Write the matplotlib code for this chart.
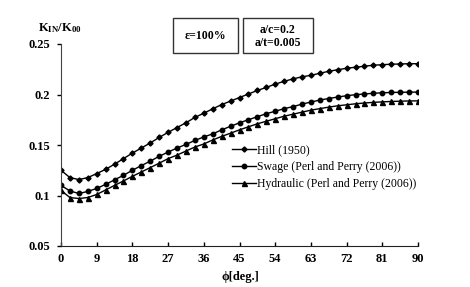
import matplotlib
matplotlib.use("Agg")
import matplotlib.pyplot as plt
import numpy as np

phi = [i * 2.25 for i in range(41)]

hill = [0.125, 0.1177, 0.1158, 0.1177, 0.1217, 0.1259, 0.131, 0.1365, 0.142, 0.147,
        0.152, 0.1575, 0.1625, 0.1673, 0.172, 0.1773, 0.1815, 0.1858, 0.190, 0.1935,
        0.197, 0.2005, 0.204, 0.207, 0.2103, 0.213, 0.2155, 0.2175, 0.219, 0.221,
        0.223, 0.2245, 0.226, 0.227, 0.228, 0.229, 0.2295, 0.230, 0.2302, 0.2305, 0.2305]

swage = [0.110, 0.1045, 0.102, 0.104, 0.107, 0.111, 0.1155, 0.120, 0.125, 0.1296,
         0.134, 0.1388, 0.143, 0.147, 0.1506, 0.1545, 0.158, 0.161, 0.165, 0.1685,
         0.172, 0.175, 0.178, 0.181, 0.1834, 0.186, 0.188, 0.1905, 0.1925, 0.1945,
         0.196, 0.1975, 0.1988, 0.1998, 0.2005, 0.2012, 0.2017, 0.202, 0.2022, 0.2023, 0.2024]

hydraulic = [0.105, 0.098, 0.097, 0.098, 0.101, 0.1055, 0.110, 0.1144, 0.119, 0.1233,
             0.1276, 0.132, 0.1365, 0.140, 0.144, 0.148, 0.151, 0.155, 0.1585, 0.1617,
             0.165, 0.168, 0.171, 0.1735, 0.176, 0.1785, 0.1805, 0.1825, 0.1845, 0.186,
             0.1875, 0.1888, 0.1898, 0.1908, 0.1916, 0.1922, 0.1927, 0.1931, 0.1934, 0.1936, 0.1937]

labels = ["Hill (1950)", "Swage (Perl and Perry (2006))", "Hydraulic (Perl and Perry (2006))"]
xticks = [0, 9, 18, 27, 36, 45, 54, 63, 72, 81, 90]
yticks = [0.05, 0.1, 0.15, 0.2, 0.25]
ytick_labels = ["0.05", "0.1", "0.15", "0.2", "0.25"]

plt.rcParams['font.family'] = ['Liberation Serif', 'DejaVu Serif']
plt.rcParams['mathtext.fontset'] = 'custom'
plt.rcParams['mathtext.rm'] = 'Liberation Serif'
plt.rcParams['mathtext.bf'] = 'Liberation Serif:bold'

fig = plt.figure(figsize=(4.7, 2.87), dpi=100)
ax = fig.add_axes([61/470, 1-246/287, (418-61)/470, (246-44)/287])

ax.plot(phi, hill, color='black', lw=1.0, marker='D', ms=2.6, label=labels[0])
ax.plot(phi, swage, color='black', lw=1.0, marker='o', ms=3.2, label=labels[1])
ax.plot(phi, hydraulic, color='black', lw=1.0, marker='^', ms=3.6, label=labels[2])

ax.set_xlim(0, 90)
ax.set_ylim(0.05, 0.25)
ax.set_xticks(xticks)
ax.set_xticklabels([str(t) for t in xticks], fontweight='bold', fontsize=9)
ax.set_yticks(yticks)
ax.set_yticklabels(ytick_labels, fontweight='bold', fontsize=9)
ax.spines['top'].set_visible(False)
ax.spines['right'].set_visible(False)
ax.spines['left'].set_color('#444444')
ax.spines['bottom'].set_color('#222222')
ax.tick_params(axis='x', direction='in', length=3, width=1, pad=5)
ax.tick_params(axis='y', direction='out', length=3, width=1, pad=5)

ax.set_xlabel('ϕ[deg.]', fontweight='bold', fontsize=9, labelpad=3)
ax.xaxis.set_label_coords((240-61)/357, -(271-246)/202)

fig.text(60/470, 1-28/287, r'$\mathbf{K_{IN}/K_{00}}$', ha='center', va='center',
         fontsize=9)

fig.text(205.5/470, 1-36/287, 'ε=100%', ha='center', va='center', fontweight='bold', fontsize=8.5)
fig.text(278/470, 1-36.5/287, 'a/c=0.2\na/t=0.005', ha='center', va='center', fontweight='bold',
         fontsize=8.5, linespacing=1.05)
for (x0, x1) in [(173, 238), (243, 313)]:
    rect = plt.Rectangle((x0/470, 1-53/287), (x1-x0)/470, 35/287, transform=fig.transFigure,
                         fill=False, ec='#333333', lw=1)
    fig.add_artist(rect)

leg = ax.legend(loc='upper left', bbox_to_anchor=((232-61)/357, 1-(144-44)/202), frameon=False,
                fontsize=8.5, handlelength=2.0, handletextpad=0.15, labelspacing=0.42,
                borderpad=0, borderaxespad=0)

fig.savefig('out.png', dpi=100)
